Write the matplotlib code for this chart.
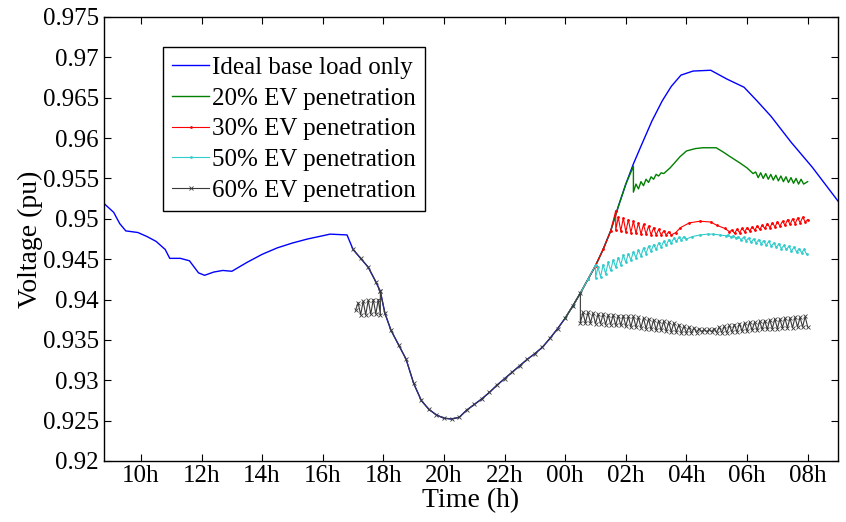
import numpy as np
import matplotlib
matplotlib.use('Agg')
import matplotlib.pyplot as plt
from matplotlib.ticker import FormatStrFormatter

plt.rcParams['font.family'] = ['Liberation Serif', 'DejaVu Serif']

# ---- data (time in hours, 24+ = next day) ----
base_t = [8.78, 9.1, 9.3, 9.5, 9.9, 10.2, 10.5, 10.8, 10.95, 11.3, 11.6, 11.9, 12.1, 12.4,
          12.7, 13.0, 13.5, 14.0, 14.5, 15.0, 15.5, 16.0, 16.24, 16.8,
          17.0, 17.25, 17.5, 17.75, 17.9, 18.05, 18.25, 18.5, 18.75, 19.0, 19.25, 19.5,
          19.75, 20.0, 20.25, 20.5, 20.75, 21.0, 21.25, 21.5, 21.75, 22.0, 22.25, 22.5,
          22.75, 23.0, 23.25, 23.5, 23.75, 24.0, 24.25, 24.5, 24.75, 25.0, 25.25, 25.5,
          25.75, 26.0, 26.25, 26.5, 26.86, 27.2, 27.5, 27.82, 28.22, 28.8, 29.34, 29.9,
          30.33, 30.79, 31.45, 32.15, 33.0]
base_v = [0.9519, 0.9508, 0.9494, 0.9485, 0.9483, 0.9478, 0.9472, 0.9462, 0.9451, 0.9451,
          0.9448, 0.9433, 0.9430, 0.9434, 0.9436, 0.9435, 0.9446, 0.9456, 0.9464, 0.9470,
          0.9475, 0.9479, 0.9481, 0.9480,
          0.9462, 0.9451, 0.9440, 0.9422, 0.9410, 0.9383, 0.9362, 0.9344, 0.9326, 0.9296,
          0.9275, 0.9264, 0.9257, 0.9253, 0.9252, 0.9254, 0.9263, 0.9270, 0.9277, 0.9285,
          0.9294, 0.9302, 0.9310, 0.9318, 0.9326, 0.9333, 0.9341, 0.9352, 0.9364, 0.9377,
          0.9392, 0.9408, 0.9425, 0.9442, 0.9462, 0.9485, 0.9515, 0.9543, 0.9568, 0.9590,
          0.9621, 0.9646, 0.9664, 0.9678, 0.9683, 0.9684, 0.9673, 0.9663, 0.9646, 0.9627,
          0.9595, 0.9564, 0.9522]

step = 1 / 12  # 5 min sampling of the charging simulation

# 20% EV
g_start = (26.25, 0.9565, 0.9533)
g_zz1_top = [0.9543, 0.9546, 0.9549, 0.9552, 0.9555, 0.9557]
g_zz1_bot = [0.9537, 0.9541, 0.9545, 0.9549, 0.9553, 0.9556]
g_mid_t = [27.46, 27.79, 28.0, 28.3, 28.55, 28.98, 29.2, 29.44, 29.77, 30.0, 30.2]
g_mid_v = [0.9563, 0.9577, 0.9584, 0.9587, 0.9588, 0.9588, 0.9583, 0.9577, 0.9569, 0.9563, 0.9556]
g_zz2_top = [0.9558, 0.9557, 0.9556, 0.9555, 0.9554, 0.9553, 0.9552, 0.9551, 0.9550, 0.9549]
g_zz2_bot = [0.9551, 0.9550, 0.9549, 0.9548, 0.9547, 0.9546, 0.9545, 0.9544, 0.9543, 0.9543]
g_end = (32.0, 0.9546)

# 30% EV
r_start = (25.667, 0.9510, 0.9486)
r_zz1_top = [0.9502, 0.9501, 0.9499, 0.9497, 0.9495, 0.9493, 0.9491, 0.9489, 0.9487, 0.9485, 0.9484]
r_zz1_bot = [0.9485, 0.9484, 0.9483, 0.9482, 0.9481, 0.9481, 0.9480, 0.9480, 0.9480, 0.9480, 0.9480]
r_mid_t = [27.65, 27.8, 28.1, 28.45, 28.8, 29.0, 29.27, 29.42]
r_mid_v = [0.9483, 0.9489, 0.9495, 0.9497, 0.9496, 0.9492, 0.9488, 0.9484]
r_zz2_top = [0.9486, 0.9487, 0.9488, 0.9489, 0.9490, 0.9491, 0.9492, 0.9494, 0.9495, 0.9496,
             0.9497, 0.9499, 0.9500, 0.9501, 0.9502]
r_zz2_bot = [0.9482, 0.9483, 0.9484, 0.9485, 0.9486, 0.9487, 0.9488, 0.9489, 0.9490, 0.9491,
             0.9492, 0.9493, 0.9494, 0.9495, 0.9496]
r_end = (32.0, 0.9499)

# 50% EV
c_start = (25.0, 0.9443, 0.9427)
c_zz1_top = [0.9440, 0.9443, 0.9446, 0.9449, 0.9452, 0.9455, 0.9457, 0.9459, 0.9461, 0.9464,
             0.9466, 0.9468, 0.9470, 0.9472, 0.9474, 0.9476, 0.9477, 0.9478]
c_zz1_bot = [0.9428, 0.9432, 0.9436, 0.9440, 0.9443, 0.9446, 0.9449, 0.9452, 0.9454, 0.9457,
             0.9460, 0.9462, 0.9465, 0.9467, 0.9470, 0.9472, 0.9474, 0.9475]
c_mid_t = [28.2, 28.45, 28.7, 28.88, 29.1, 29.3]
c_mid_v = [0.9478, 0.9480, 0.9481, 0.9481, 0.9480, 0.9479]
c_zz2_top = [0.9480, 0.9479, 0.9478, 0.9477, 0.9476, 0.9475, 0.9474, 0.9473, 0.9472, 0.9470,
             0.9469, 0.9467, 0.9466, 0.9465, 0.9463, 0.9462]
c_zz2_bot = [0.9477, 0.9476, 0.9474, 0.9473, 0.9471, 0.9470, 0.9469, 0.9467, 0.9466, 0.9465,
             0.9463, 0.9462, 0.9460, 0.9459, 0.9458, 0.9456]

# 60% EV
k_early_t = [17.083, 17.167, 17.25, 17.333, 17.417, 17.5, 17.583, 17.667, 17.75, 17.833, 17.9, 17.9]
k_early_v = [0.9387, 0.9396, 0.9381, 0.9398, 0.9381, 0.9399, 0.9382, 0.9400, 0.9382, 0.9400, 0.9381, 0.9410]
k_start = (24.5, 0.9408, 0.9371)
k_zz_top = [0.9384, 0.9384, 0.9383, 0.9382, 0.9382, 0.9381, 0.9381, 0.9380, 0.9380, 0.9379,
            0.9379, 0.9378, 0.9377, 0.9376, 0.9375, 0.9374, 0.9373, 0.9372, 0.9371, 0.9369,
            0.9367, 0.9366, 0.9365, 0.9364, 0.9363, 0.9363, 0.9364, 0.9366, 0.9367, 0.9368,
            0.9369, 0.9370, 0.9371, 0.9372, 0.9372, 0.9373, 0.9374, 0.9375, 0.9376, 0.9376,
            0.9377, 0.9377, 0.9378, 0.9378, 0.9379]
k_zz_bot = [0.9371, 0.9371, 0.9370, 0.9370, 0.9369, 0.9369, 0.9368, 0.9368, 0.9367, 0.9366,
            0.9366, 0.9365, 0.9364, 0.9363, 0.9362, 0.9362, 0.9361, 0.9360, 0.9360, 0.9359,
            0.9359, 0.9359, 0.9359, 0.9360, 0.9360, 0.9360, 0.9359, 0.9359, 0.9359, 0.9360,
            0.9360, 0.9361, 0.9361, 0.9362, 0.9362, 0.9363, 0.9363, 0.9364, 0.9364, 0.9365,
            0.9365, 0.9365, 0.9366, 0.9366, 0.9366]

tick_pos = [10, 12, 14, 16, 18, 20, 22, 24, 26, 28, 30, 32]
tick_lab = ['10h', '12h', '14h', '16h', '18h', '20h', '22h', '00h', '02h', '04h', '06h', '08h']

labels = ['Ideal base load only', '20% EV penetration', '30% EV penetration',
          '50% EV penetration', '60% EV penetration']


def zigzag(t0, top, bot):
    # alternate top / bottom samples starting one step after t0
    n = len(top)
    t = t0 + step * np.arange(1, 2 * n + 1)
    v = np.column_stack([top, bot]).ravel()
    return t, v


def on_base(t_from, t_to):
    bt = np.array(base_t)
    bv = np.array(base_v)
    m = (bt >= t_from) & (bt < t_to)
    return bt[m], bv[m]


def build(start, zz1, mid_t, mid_v, zz2, end=None, base_from=24.0):
    t0, v_on, v_drop = start
    bt, bv = on_base(base_from, t0)
    t1, v1 = zigzag(t0, *zz1)
    t2, v2 = zigzag(mid_t[-1], *zz2)
    ts = [bt, [t0, t0], t1, mid_t, t2]
    vs = [bv, [v_on, v_drop], v1, mid_v, v2]
    if end is not None:
        ts.append([end[0]])
        vs.append([end[1]])
    return np.concatenate(ts), np.concatenate(vs)


green_t, green_v = build(g_start, (g_zz1_top, g_zz1_bot), g_mid_t, g_mid_v,
                         (g_zz2_top, g_zz2_bot), g_end)
red_t, red_v = build(r_start, (r_zz1_top, r_zz1_bot), r_mid_t, r_mid_v,
                     (r_zz2_top, r_zz2_bot), r_end)
cyan_t, cyan_v = build(c_start, (c_zz1_top, c_zz1_bot), c_mid_t, c_mid_v,
                       (c_zz2_top, c_zz2_bot))

k1_t, k1_v = on_base(17.0, 17.95)
kb_t, kb_v = on_base(17.95, k_start[0])
kz_t, kz_v = zigzag(k_start[0], k_zz_top, k_zz_bot)
k2_t = np.concatenate([k_early_t, kb_t, [k_start[0], k_start[0]], kz_t])
k2_v = np.concatenate([k_early_v, kb_v, [k_start[1], k_start[2]], kz_v])

fig = plt.figure(figsize=(8.46, 5.22), dpi=100)
ax = fig.add_axes([0.1229, 0.1169, 0.8676, 0.8506])

ax.plot(base_t, base_v, color='#0000ff', lw=1.0, label=labels[0])
ax.plot(green_t, green_v, color='#008000', lw=1.0, label=labels[1])
ax.plot(red_t, red_v, color='#ff0000', lw=0.8, marker='.', ms=2, label=labels[2])
ax.plot(cyan_t, cyan_v, color='#33cccc', lw=0.8, marker='.', ms=2, label=labels[3])
ax.plot(k1_t, k1_v, color='#3a3a3a', lw=0.8, marker='x', ms=3, mew=0.6)
ax.plot(k2_t, k2_v, color='#3a3a3a', lw=0.8, marker='x', ms=3, mew=0.6, label=labels[4])

ax.set_xlim(8.78, 33.0)
ax.set_ylim(0.92, 0.975)
ax.set_xticks(tick_pos)
ax.set_xticklabels(tick_lab)
ax.set_yticks(np.arange(0.92, 0.9751, 0.005))
ax.yaxis.set_major_formatter(FormatStrFormatter('%g'))
ax.tick_params(direction='in', length=5, width=0.8, top=True, right=True, labelsize=18)
ax.tick_params(axis='x', pad=3)
for s in ax.spines.values():
    s.set_linewidth(1.0)

ax.set_xlabel('Time (h)', fontsize=20, labelpad=1)
ax.set_ylabel('Voltage (pu)', fontsize=20, labelpad=0)

leg = ax.legend(loc='upper left', bbox_to_anchor=(0.080, 0.932), fontsize=18,
                frameon=True, fancybox=False, edgecolor='black', framealpha=1,
                handlelength=1.5, handletextpad=0.1, labelspacing=0.33,
                borderpad=0.37, borderaxespad=0, numpoints=1)
leg.get_frame().set_linewidth(1.0)

fig.savefig('out.png', dpi=100)
